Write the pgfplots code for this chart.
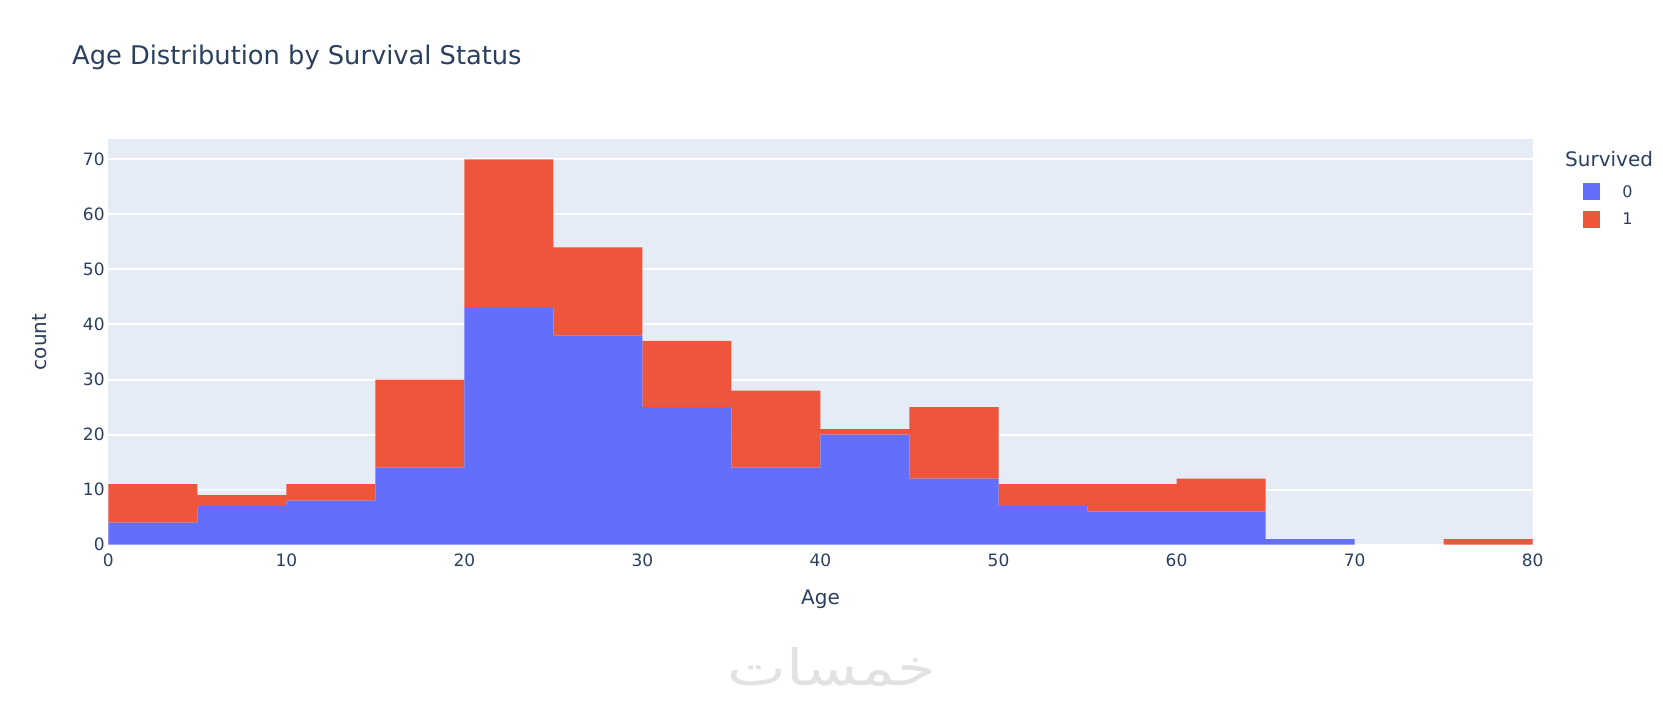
\documentclass[border=0pt]{standalone}
\usepackage{fontspec}
\setmainfont{DejaVu Sans}
\newfontfamily\arabicfont[Script=Arabic]{DejaVu Sans}
\TeXXeTstate=1
\usepackage{pgfplots}
\pgfplotsset{compat=1.18}
\definecolor{pblue}{HTML}{636EFA}
\definecolor{pred}{HTML}{EF553B}
\definecolor{pbg}{HTML}{E5ECF6}
\definecolor{ptext}{HTML}{2A3F5F}
\definecolor{wm}{HTML}{E2E2E2}

\begin{document}
\begin{tikzpicture}
\path[use as bounding box] (0,0) rectangle (1663pt,702pt);
\begin{axis}[
  at={(108.3pt,157.3pt)}, anchor=south west,
  scale only axis, width=1424.4pt, height=405.8pt,
  xmin=0, xmax=80, ymin=0, ymax=73.7,
  enlargelimits=false,
  ybar stacked, bar width=5,
  axis background/.style={fill=pbg},
  axis line style={draw=none},
  major tick length=0pt,
  xtick={0,10,...,80}, ytick={0,10,...,70},
  ymajorgrids, grid style={white, line width=2pt},
  /pgf/number format/assume math mode=true,
  tick label style={font=\fontsize{17}{20}\selectfont, text=ptext},
  xticklabel style={anchor=north, inner sep=0pt, yshift=-8.5pt},
  yticklabel style={anchor=east, inner sep=0pt, xshift=-3.5pt},
  legend style={draw=none, fill=none, inner sep=0pt, outer sep=0pt,
    at={(1.03508,0.8910)}, anchor=north west, row sep=11pt, column sep=22.7pt,
    nodes={inner sep=0pt, font=\fontsize{16}{19}\selectfont, text=ptext}},
  legend cell align=left,
  legend image code/.code={\fill[#1] (0pt,-8.3pt) rectangle (17pt,8.7pt);},
]
\addplot[fill=pblue, draw=none] coordinates {
(2.5,4) (7.5,7) (12.5,8) (17.5,14) (22.5,43) (27.5,38) (32.5,25) (37.5,14)
(42.5,20) (47.5,12) (52.5,7) (57.5,6) (62.5,6) (67.5,1) (72.5,0) (77.5,0)};
\addlegendentry{0}
\addplot[fill=pred, draw=none] coordinates {
(2.5,7) (7.5,2) (12.5,3) (17.5,16) (22.5,27) (27.5,16) (32.5,12) (37.5,14)
(42.5,1) (47.5,13) (52.5,4) (57.5,5) (62.5,6) (67.5,0) (72.5,0) (77.5,1)};
\addlegendentry{1}
\end{axis}
\node[anchor=base west, font=\fontsize{25.7}{30}\selectfont, text=ptext, inner sep=0pt] at (72pt,637.5pt) {Age Distribution by Survival Status};
\node[anchor=base, font=\fontsize{20}{24}\selectfont, text=ptext, inner sep=0pt] at (820.5pt,98pt) {Age};
\node[rotate=90, font=\fontsize{20}{24}\selectfont, text=ptext, inner sep=0pt] at (39.5pt,360.2pt) {count};
\node[anchor=base west, font=\fontsize{20}{24}\selectfont, text=ptext, inner sep=0pt] at (1565pt,535.3pt) {Survived};
\node[text=wm, font=\arabicfont\fontsize{50}{56}\selectfont, inner sep=0pt, xscale=1.25] at (832pt,35pt) {\beginR خمسات\endR};
\end{tikzpicture}
\end{document}
